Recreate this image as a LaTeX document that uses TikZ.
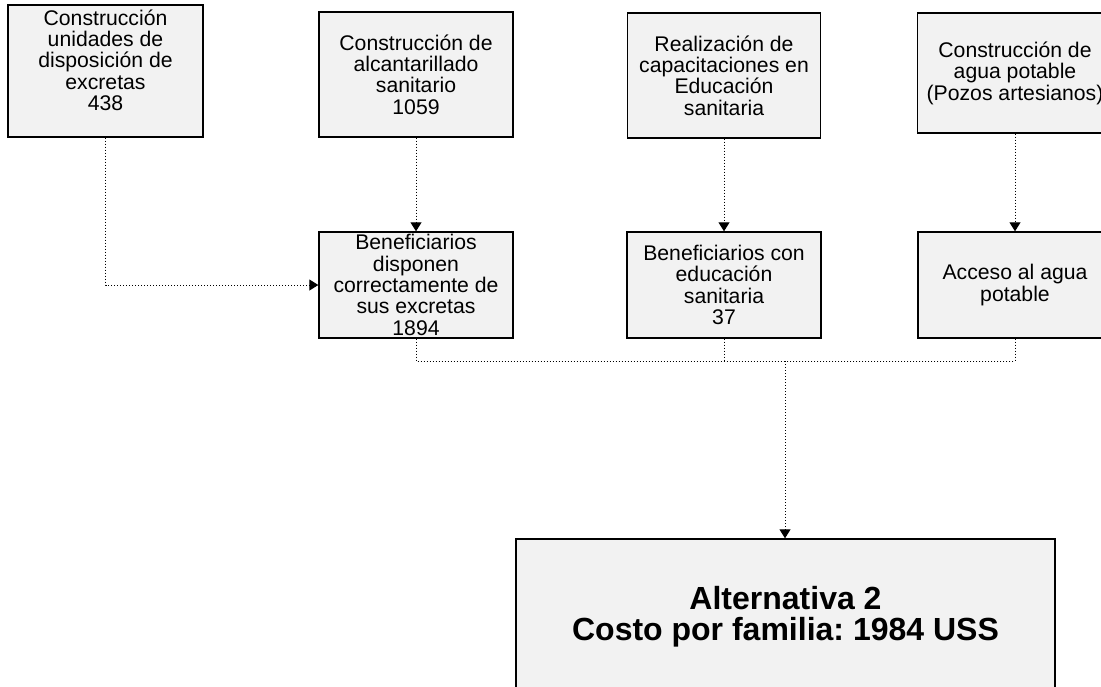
\documentclass[tikz,border=0pt]{standalone}
\usepackage{fontspec}
\setmainfont{Liberation Sans}
\usepackage{tikz}
\usetikzlibrary{positioning,calc,arrows.meta}
\frenchspacing

\begin{document}
\begin{tikzpicture}[
    x=0.5pt, y=-0.5pt,
    caja/.style={rectangle, draw=black, line width=0.7pt, fill=gray!10, align=center,
        inner sep=1pt, font=\fontsize{10.6}{10.7}\selectfont},
    flecha/.style={densely dotted, line width=0.5pt, -{Triangle[width=5.5pt,length=4.5pt]}},
    linea/.style={densely dotted, line width=0.5pt}
]
    \path[use as bounding box, clip] (0,0) rectangle (1101,686);

    % fila de actividades
    \node[caja, minimum width=97.5pt, minimum height=66pt] (letrinas) at (105.5,71)
        {Construcción\\unidades de\\disposición de\\excretas\\438\rule[-11pt]{0pt}{0pt}};
    \node[caja, minimum width=97pt, minimum height=62.5pt] (alcantarillado) at (416,74.5)
        {Construcción de\\alcantarillado\\sanitario\\1059};
    \node[caja, minimum width=96.5pt, minimum height=62.5pt] (capacitacion) at (724,75.5)
        {Realización de\\capacitaciones en\\Educación\\sanitaria};
    \node[caja, minimum width=97.5pt, minimum height=60pt] (pozos) at (1015,73)
        {Construcción de\\agua potable\\(Pozos artesianos)};

    % fila de resultados
    \node[caja, minimum width=97pt, minimum height=53pt] (excretas) at (416,285)
        {Beneficiarios\\disponen\\correctamente de\\sus excretas\\1894};
    \node[caja, minimum width=97pt, minimum height=53pt] (educacion) at (724,285)
        {Beneficiarios con\\educación\\sanitaria\\37};
    \node[caja, minimum width=97pt, minimum height=53pt] (agua) at (1015,285)
        {Acceso al agua\\potable};

    % alternativa
    \node[caja, minimum width=269.5pt, minimum height=78pt,
        font=\bfseries\fontsize{16}{15.5}\selectfont] (alternativa) at (785.5,617)
        {Alternativa 2\\Costo por familia: 1984 USS};

    \coordinate (union) at (785,361);

    \draw[flecha] (letrinas.south) |- (excretas.west);
    \draw[flecha] (alcantarillado) -- (excretas);
    \draw[flecha] (capacitacion) -- (educacion);
    \draw[flecha] (pozos) -- (agua);

    \draw[linea] (excretas.south) |- (union);
    \draw[linea] (agua.south) |- (union);
    \draw[linea] (educacion.south) -- (educacion.south |- union);
    \draw[flecha] (union) -- (union |- alternativa.north);
\end{tikzpicture}
\end{document}
